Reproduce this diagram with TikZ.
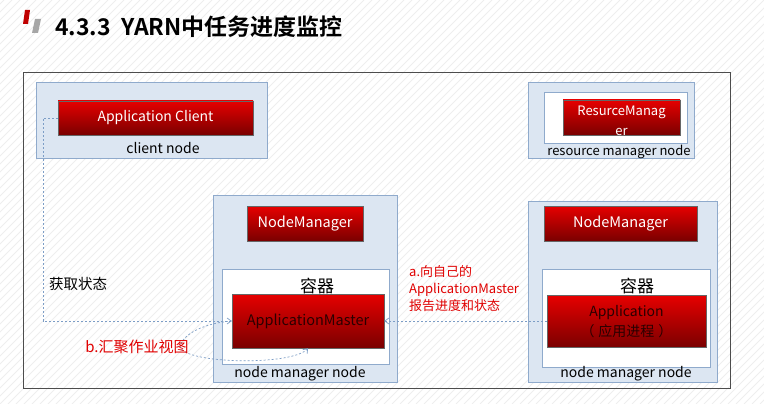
\documentclass[tikz,border=0pt]{standalone}
\usepackage{fontspec}
\setmainfont{Noto Sans CJK SC}
\newfontfamily\titlefont{Noto Sans CJK SC Bold}
\usetikzlibrary{arrows.meta}
\definecolor{boxfill}{HTML}{DCE6F2}
\definecolor{boxline}{HTML}{8FAACC}
\definecolor{redtop}{HTML}{E60000}
\definecolor{redbot}{HTML}{7A0000}
\definecolor{conncol}{HTML}{7C9DC6}
\definecolor{labred}{HTML}{E00000}
\definecolor{darktxt}{HTML}{2A0000}
\definecolor{hatch}{HTML}{EEEEEE}
\tikzset{
  nodebox/.style={draw=boxline, fill=boxfill, line width=0.8pt, inner sep=0pt},
  contbox/.style={draw=boxline, fill=white, line width=0.8pt, inner sep=0pt},
  redbox/.style={draw=black!60, top color=redtop, bottom color=redbot, line width=0.6pt, inner sep=0pt, align=center, font=\fontsize{14}{20}\selectfont},
  lbl/.style={inner sep=0pt, font=\fontsize{14}{16}\selectfont},
  redlbl/.style={inner sep=0pt, text=labred, font=\fontsize{13}{17}\selectfont, align=left},
  conn/.style={draw=conncol, line width=0.7pt, dash pattern=on 2pt off 2pt, -{Straight Barb[length=4pt,width=6pt]}},
}
\begin{document}
\begin{tikzpicture}[x=1pt,y=-1pt]
\useasboundingbox (0,0) rectangle (764,404);
% background hatch
\begin{scope}
\clip (0,0) rectangle (764,404);
\foreach \h in {-408,-400,...,764} {
  \draw[hatch, line width=0.8pt] (\h,404) -- (\h+404,0);
}
\end{scope}
% title marks
\fill[red!75!black] (25,10) -- (30,10) -- (28,24) -- (23,24) -- cycle;
\fill[gray!70] (35,19) -- (41,19) -- (38,33) -- (32,33) -- cycle;
\node[anchor=west, inner sep=0pt, font=\titlefont\fontsize{23}{26}\selectfont] (title) at (55,27) {4.3.3\ \ YARN中任务进度监控};
% outer frame
\draw[black!70, line width=0.8pt] (23,72) rectangle (730,388);
% client node
\node[nodebox, minimum width=231pt, minimum height=76pt] (client) at (151.5,120) {};
\node[redbox, text=white, minimum width=195pt, minimum height=34pt] (appclient) at (155.5,118) {Application Client};
\node[lbl] (clientlbl) at (163,148) {client node};
% resource manager node
\node[nodebox, minimum width=166pt, minimum height=76pt] (rmnode) at (611,120) {};
\node[contbox, minimum width=143pt, minimum height=51pt] (rmcont) at (615.5,117.5) {};
\node[redbox, text=white, minimum width=117pt, minimum height=35pt] (rm) at (621.5,117.5) {};
\node[text=white, inner sep=0pt, align=center, font=\fontsize{13}{20}\selectfont] (rmtext) at (621.5,120.5) {ResurceManag\\er};
\node[lbl, font=\fontsize{13}{16}\selectfont] (rmlbl) at (619,152) {resource manager node};
% node manager node 1
\node[nodebox, minimum width=184pt, minimum height=187pt] (nm1) at (305,288.5) {};
\node[redbox, text=white, minimum width=116pt, minimum height=35pt, font=\fontsize{14.5}{18}\selectfont] (nmgr1) at (305,223.5) {NodeManager};
\node[contbox, minimum width=167pt, minimum height=95pt] (cont1) at (305.5,316.5) {};
\node[lbl, font=\fontsize{17}{18}\selectfont] (rq1) at (317,286) {容器};
\node[redbox, text=darktxt, minimum width=152pt, minimum height=54pt, font=\fontsize{14.5}{18}\selectfont] (am) at (308,321) {ApplicationMaster};
\node[lbl] (nm1lbl) at (300,374) {node manager node};
% node manager node 2
\node[nodebox, minimum width=189pt, minimum height=181pt] (nm2) at (622.5,291.5) {};
\node[redbox, text=white, minimum width=153pt, minimum height=35pt, font=\fontsize{14.5}{18}\selectfont] (nmgr2) at (620.5,223.5) {NodeManager};
\node[contbox, minimum width=168pt, minimum height=98pt] (cont2) at (626,318) {};
\node[lbl, font=\fontsize{17}{18}\selectfont] (rq2) at (637,286) {容器};
\node[redbox, text=darktxt, minimum width=159pt, minimum height=52pt, font=\fontsize{14}{20}\selectfont] (app) at (626.5,321.5) {Application\\（\hspace{4pt}应用进程\hspace{4pt}）};
\node[lbl] (nm2lbl) at (626,374) {node manager node};
% labels
\node[lbl, font=\fontsize{14.5}{16}\selectfont] (getstate) at (78,284) {获取状态};
\node[redlbl, anchor=west] (alabel) at (409,289) {a.向自己的\\ApplicationMaster\\报告进度和状态};
% connectors
\coordinate (c2) at (43,321);
\draw[conn] (appclient.west) -| (c2) -- (am.west |- c2);
\draw[conn] (app.west |- am.east) -- (am.east);
\draw[conn] (am.west) .. controls (205,323) and (182,334) .. (180,347) .. controls (186,364) and (292,366) .. (am.south);
\node[redlbl, font=\fontsize{15}{16}\selectfont] (blabel) at (137,347) {b.汇聚作业视图};
\end{tikzpicture}
\end{document}
